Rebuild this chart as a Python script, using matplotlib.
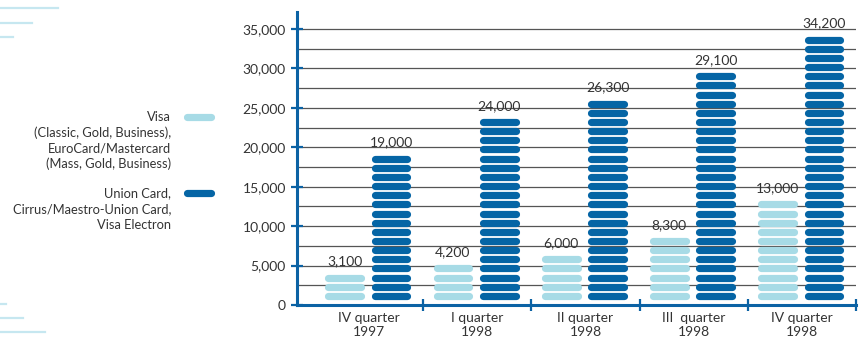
import math
import matplotlib
matplotlib.use("Agg")
import matplotlib.pyplot as plt
from matplotlib.lines import Line2D

plt.rcParams['font.family'] = ['Lato', 'DejaVu Sans']

# data
quarters = ["IV quarter\n1997", "I quarter\n1998", "II quarter\n1998",
            "III  quarter\n1998", "IV quarter\n1998"]
visa = [3100, 4200, 6000, 8300, 13000]
union = [19000, 24000, 26300, 29100, 34200]
visa_legend = ["Visa", "(Classic, Gold, Business),", "EuroCard/Mastercard",
               "(Mass, Gold, Business)"]
union_legend = ["Union Card,", "Cirrus/Maestro-Union Card,", "Visa Electron"]

light = '#a7dbe6'
dark = '#0565a5'
axblue = '#0b62a4'
txt = '#333333'
deco = '#c6e7f0'
fs = 10

unit = 1200      # value per pill
step = 1160      # pill spacing in data units
pill_lw = 5.2
bar_w = 0.37
cap = 3.7 / 108.25

fig = plt.figure(figsize=(8.65, 3.38), dpi=100)
ax = fig.add_axes([297 / 865, 33 / 338, (856 - 297) / 865, (305 - 12) / 338])
ax.set_xlim(-0.665, 4.5)
ax.set_ylim(0, 37150)

# grid lines every 2500
for g in range(2500, 35001, 2500):
    ax.axhline(g, color='#555555', lw=0.9, zorder=1)


def pills(x, value, color):
    n = math.ceil(value / unit)
    ys = [step * (k + 1) for k in range(n)]
    ax.hlines(ys, x - bar_w / 2 + cap, x + bar_w / 2 - cap, colors=color,
              lw=pill_lw, capstyle='round', zorder=3)
    return (n + 0.5) * step


off = 0.214
for i in range(len(quarters)):
    xc = i - 0.01
    top = pills(xc - off, visa[i], light)
    ax.annotate(f"{visa[i]:,}", (xc - off, top), xytext=(0, 4),
                textcoords='offset points', ha='center', va='bottom',
                fontsize=fs, color=txt)
    top = pills(xc + off, union[i], dark)
    ax.annotate(f"{union[i]:,}", (xc + off, top), xytext=(0, 4),
                textcoords='offset points', ha='center', va='bottom',
                fontsize=fs, color=txt)

# axes styling
for s in ['top', 'right']:
    ax.spines[s].set_visible(False)
for s in ['left', 'bottom']:
    ax.spines[s].set_color(axblue)
    ax.spines[s].set_linewidth(2.2)
    ax.spines[s].set_zorder(5)

ax.set_yticks(range(0, 35001, 5000))
ax.set_yticklabels([f"{v:,}" for v in range(0, 35001, 5000)])
ax.set_xticks([i + 0.5 for i in range(len(quarters))])
ax.set_xticklabels([])
ax.tick_params(axis='both', direction='inout', length=8, width=1.6,
               color=axblue, labelsize=fs, labelcolor=txt)
ax.tick_params(axis='y', pad=4)
for i, q in enumerate(quarters):
    ax.text(i, -900, q, ha='center', va='top', fontsize=fs, color=txt,
            linespacing=1.15)

# legend
for k, line in enumerate(visa_legend):
    fig.text(171 / 865, 1 - (117 + 15.6 * k) / 338, line, ha='right',
             va='center', fontsize=9.3, color=txt)
for k, line in enumerate(union_legend):
    fig.text(171 / 865, 1 - (193 + 15.8 * k) / 338, line, ha='right',
             va='center', fontsize=9.3, color=txt)
fig.add_artist(Line2D([187 / 865, 211 / 865], [1 - 117.5 / 338] * 2,
                      color=light, lw=pill_lw, solid_capstyle='round'))
fig.add_artist(Line2D([187 / 865, 211 / 865], [1 - 192.5 / 338] * 2,
                      color=dark, lw=pill_lw, solid_capstyle='round'))

# decorative lines in the left corners
for y, x1 in [(8, 58), (23, 32), (37, 13), (304, 6), (318, 23), (332, 45)]:
    fig.add_artist(Line2D([0, x1 / 865], [1 - y / 338] * 2, color=deco, lw=1.6))

fig.savefig("out.png", dpi=100)
